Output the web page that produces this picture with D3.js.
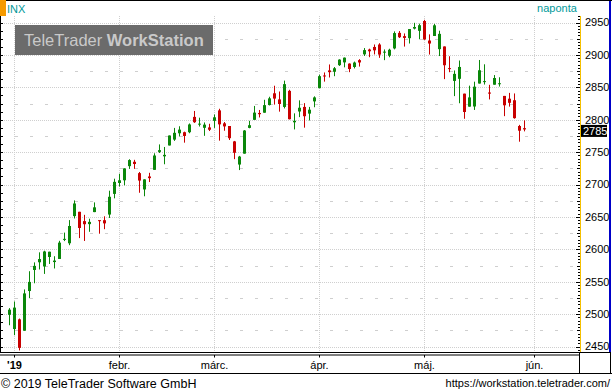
<!DOCTYPE html>
<head>
<meta charset="utf-8">
<script src="https://d3js.org/d3.v7.min.js"></script>
<style>
    body{margin:0;background:#fff;}
    svg{display:block;font-family:"Liberation Sans",Arial,sans-serif;}
</style>
</head>
<body>
<div id="container"></div>
<script>
    // INX napi gyertyák (2018-12-31 .. 2019-05-30)
    var dates = ['2018-12-31',
        '2019-01-02','2019-01-03','2019-01-04','2019-01-07','2019-01-08','2019-01-09','2019-01-10','2019-01-11','2019-01-14','2019-01-15','2019-01-16','2019-01-17','2019-01-18','2019-01-22','2019-01-23','2019-01-24','2019-01-25','2019-01-28','2019-01-29','2019-01-30','2019-01-31',
        '2019-02-01','2019-02-04','2019-02-05','2019-02-06','2019-02-07','2019-02-08','2019-02-11','2019-02-12','2019-02-13','2019-02-14','2019-02-15','2019-02-19','2019-02-20','2019-02-21','2019-02-22','2019-02-25','2019-02-26','2019-02-27','2019-02-28',
        '2019-03-01','2019-03-04','2019-03-05','2019-03-06','2019-03-07','2019-03-08','2019-03-11','2019-03-12','2019-03-13','2019-03-14','2019-03-15','2019-03-18','2019-03-19','2019-03-20','2019-03-21','2019-03-22','2019-03-25','2019-03-26','2019-03-27','2019-03-28','2019-03-29',
        '2019-04-01','2019-04-02','2019-04-03','2019-04-04','2019-04-05','2019-04-08','2019-04-09','2019-04-10','2019-04-11','2019-04-12','2019-04-15','2019-04-16','2019-04-17','2019-04-18','2019-04-22','2019-04-23','2019-04-24','2019-04-25','2019-04-26','2019-04-29','2019-04-30',
        '2019-05-01','2019-05-02','2019-05-03','2019-05-06','2019-05-07','2019-05-08','2019-05-09','2019-05-10','2019-05-13','2019-05-14','2019-05-15','2019-05-16','2019-05-17','2019-05-20','2019-05-21','2019-05-22','2019-05-23','2019-05-24','2019-05-28','2019-05-29','2019-05-30'];
    // a tengely a következő kereskedési napokig tart
    var futureDates = ['2019-05-31','2019-06-03'];

    var open = [2498.94,
        2476.96,2491.92,2474.33,2535.61,2568.11,2580.00,2573.51,2588.11,2580.31,2585.10,2614.75,2609.28,2651.27,2657.88,2643.48,2638.84,2657.44,2644.97,2644.89,2653.62,2685.49,
        2702.32,2706.49,2728.34,2735.05,2717.53,2692.36,2712.40,2722.61,2750.30,2743.50,2760.24,2769.28,2779.05,2780.67,2780.67,2804.35,2792.36,2787.50,2788.11,
        2798.22,2814.37,2794.41,2790.27,2766.53,2730.79,2747.61,2787.34,2799.78,2810.38,2810.79,2822.61,2840.76,2831.34,2819.72,2844.52,2796.01,2812.66,2819.72,2809.40,2828.27,
        2848.63,2868.24,2876.09,2873.99,2884.16,2888.46,2886.58,2881.37,2891.92,2900.86,2908.32,2912.26,2916.04,2904.81,2898.78,2909.99,2934.00,2928.99,2925.81,2940.58,2937.14,
        2952.33,2922.16,2929.21,2908.89,2913.03,2879.61,2859.84,2863.10,2840.19,2820.12,2820.38,2855.80,2858.60,2841.94,2854.02,2856.06,2836.70,2832.41,2830.03,2790.25,2786.94];
    var high = [2509.24,
        2519.49,2493.14,2538.07,2566.16,2579.82,2595.32,2597.82,2596.27,2589.32,2613.08,2625.76,2645.06,2675.47,2657.88,2653.19,2647.20,2672.38,2644.97,2650.93,2690.44,2708.95,
        2716.66,2724.99,2738.98,2738.08,2719.32,2708.07,2718.05,2748.19,2761.85,2757.90,2775.66,2787.33,2789.88,2781.58,2794.20,2813.49,2803.12,2795.76,2793.73,
        2808.02,2816.88,2796.44,2790.27,2767.25,2744.13,2784.00,2798.32,2821.24,2815.00,2830.73,2835.41,2852.42,2843.54,2860.31,2846.16,2809.79,2829.87,2825.56,2819.71,2836.03,
        2869.40,2872.90,2885.25,2881.28,2893.24,2895.95,2886.88,2889.71,2893.42,2910.54,2909.60,2916.06,2918.00,2908.40,2909.51,2936.31,2936.83,2933.10,2939.88,2949.52,2948.22,
        2954.13,2931.68,2947.85,2937.32,2913.03,2897.96,2875.97,2891.31,2840.19,2852.54,2858.68,2892.15,2885.48,2853.86,2868.88,2865.47,2836.70,2841.36,2840.51,2792.03,2799.00];
    var low = [2482.82,
        2467.47,2443.96,2474.33,2524.56,2547.56,2568.89,2562.02,2577.40,2570.41,2585.10,2612.68,2606.36,2647.58,2617.27,2612.86,2627.01,2657.33,2624.06,2631.05,2648.34,2678.65,
        2696.88,2698.75,2724.03,2724.15,2687.26,2681.83,2703.79,2722.61,2748.63,2731.23,2760.24,2767.29,2774.06,2764.55,2779.11,2794.99,2789.47,2775.13,2782.51,
        2787.38,2767.66,2782.97,2768.69,2739.09,2722.27,2747.61,2786.73,2799.78,2803.46,2810.79,2821.99,2823.27,2812.43,2817.38,2800.47,2785.02,2803.99,2787.72,2798.77,2819.23,
        2848.63,2858.75,2865.17,2867.14,2882.99,2880.78,2873.33,2879.13,2881.99,2898.37,2896.48,2900.71,2895.45,2891.90,2896.35,2908.53,2926.05,2912.84,2917.56,2939.35,2924.11,
        2923.36,2900.50,2929.21,2898.21,2862.60,2873.28,2836.40,2825.39,2801.43,2820.12,2815.08,2855.80,2854.23,2831.29,2854.02,2851.11,2805.49,2820.19,2801.58,2766.06,2782.00];
    var close = [2506.85,
        2510.03,2447.89,2531.94,2549.69,2574.41,2584.96,2596.64,2596.26,2582.61,2610.30,2616.10,2635.96,2670.71,2632.90,2638.70,2642.33,2664.76,2643.85,2640.00,2681.05,2704.10,
        2706.53,2724.87,2737.70,2731.61,2706.05,2707.88,2709.80,2744.73,2753.03,2745.73,2775.60,2779.76,2784.70,2774.88,2792.67,2796.11,2793.90,2792.38,2784.49,
        2803.69,2792.81,2789.65,2771.45,2748.93,2743.07,2783.30,2791.52,2810.92,2808.48,2822.48,2832.94,2832.57,2824.23,2854.88,2800.71,2798.36,2818.46,2805.37,2815.44,2834.40,
        2867.19,2867.24,2873.40,2879.39,2892.74,2895.77,2878.20,2888.21,2888.32,2907.41,2905.58,2907.06,2900.45,2905.03,2907.97,2933.68,2927.25,2926.17,2939.88,2943.03,2945.83,
        2923.73,2917.52,2945.64,2932.47,2884.05,2879.42,2870.72,2881.40,2811.87,2834.41,2850.96,2876.32,2859.53,2840.23,2864.36,2856.27,2822.24,2826.06,2802.39,2783.02,2785.00];

    var lastPrice = 2785;
    var yTicks = [2450, 2500, 2550, 2600, 2650, 2700, 2750, 2800, 2850, 2900, 2950];
    var monthLabels = ["'19", 'febr.', 'márc.', 'ápr.', 'máj.', 'jún.'];

    var W = 612, H = 392;
    var plotR = 580, plotTop = 16, axisY = 352.5;
    var upColor = '#0a870a', downColor = '#c80000', gridColor = '#cfcfcf';

    var svg = d3.select('#container').append('svg').attr('width', W).attr('height', H);

    var axisDates = dates.concat(futureDates);
    var x = d3.scalePoint().domain(axisDates).range([9.5, 9.5 + 5 * (axisDates.length - 1)]);
    var y = d3.scaleLinear().domain([2450, 2950]).range([346.5, 22.5]);
    var py = v => Math.round(y(v)) + 0.5;

    // hónapkezdő napok
    var monthStarts = axisDates.filter((d, i) => i > 0 && d.slice(0, 7) !== axisDates[i - 1].slice(0, 7));

    //rács
    var grid = svg.append('g');
    grid.selectAll('.hmain').data(yTicks).enter().append('line')
        .attr('x1', 0).attr('x2', plotR).attr('y1', py).attr('y2', py)
        .attr('stroke', gridColor).attr('stroke-dasharray', '1,1');
    grid.selectAll('.hmid').data(yTicks.slice(1).map(v => v - 25)).enter().append('line')
        .attr('x1', 0).attr('x2', plotR).attr('y1', py).attr('y2', py)
        .attr('stroke', gridColor).attr('stroke-dasharray', '3,12');
    grid.selectAll('.vline').data(monthStarts).enter().append('line')
        .attr('x1', d => x(d)).attr('x2', d => x(d)).attr('y1', plotTop).attr('y2', axisY)
        .attr('stroke', gridColor).attr('stroke-dasharray', '1,1');

    // vízjel
    svg.append('rect').attr('x', 15).attr('y', 25).attr('width', 198).attr('height', 30).attr('fill', '#6b6b6b');
    var wm = svg.append('text').attr('x', 24).attr('y', 45.5).attr('fill', '#c9c9c9').style('font-size', '16.5px');
    wm.append('tspan').text('TeleTrader ');
    wm.append('tspan').attr('font-weight', 'bold').text('WorkStation');

    //gyertyák
    var idx = d3.range(dates.length);
    var candles = svg.append('g').selectAll('g').data(idx).enter().append('g');
    candles.append('line')
        .attr('x1', i => x(dates[i])).attr('x2', i => x(dates[i]))
        .attr('y1', i => y(high[i])).attr('y2', i => y(low[i]))
        .attr('stroke', i => close[i] >= open[i] ? upColor : downColor);
    candles.append('rect')
        .attr('x', i => x(dates[i]) - 1.5).attr('width', 3)
        .attr('y', i => y(Math.max(open[i], close[i])))
        .attr('height', i => Math.max(1, Math.abs(y(open[i]) - y(close[i]))))
        .attr('fill', i => close[i] >= open[i] ? upColor : downColor);

    // bal oldali skála jelek
    svg.append('line').attr('x1', 0.5).attr('x2', 0.5).attr('y1', plotTop).attr('y2', axisY).attr('stroke', '#000');
    svg.append('g').selectAll('line').data(d3.range(2450, 2951, 12.5)).enter().append('line')
        .attr('x1', 0).attr('x2', 3).attr('y1', py).attr('y2', py).attr('stroke', '#000');

    // jobb oldali skála
    svg.append('rect').attr('x', plotR + 0.5).attr('y', 1).attr('width', W - plotR).attr('height', axisY - 1).attr('fill', '#fff');
    svg.append('line').attr('x1', plotR + 0.5).attr('x2', plotR + 0.5).attr('y1', plotTop).attr('y2', axisY).attr('stroke', '#f5c000');
    svg.append('g').selectAll('line').data(d3.range(2445, 2961, 5)).enter().append('line')
        .attr('x1', v => v % 50 === 0 ? 576 : (v % 25 === 0 ? 577 : 578)).attr('x2', plotR)
        .attr('y1', py).attr('y2', py).attr('stroke', '#000');
    svg.append('g').selectAll('text').data(yTicks).enter().append('text')
        .attr('x', 585).attr('y', y).attr('dy', '0.35em')
        .style('font-size', '11px').attr('fill', '#000').text(d => d);
    svg.append('rect').attr('x', 609).attr('y', 1).attr('width', 2).attr('height', axisY - 1).attr('fill', '#0000c8');

    // utolsó ár
    svg.append('rect').attr('x', 581).attr('y', y(lastPrice) - 4.5).attr('width', 26).attr('height', 12).attr('fill', '#000');
    svg.append('text').attr('x', 583).attr('y', y(lastPrice) + 1.5).attr('dy', '0.35em')
        .style('font-size', '11px').attr('fill', '#fff').text(lastPrice);

    // fejléc
    svg.append('rect').attr('x', 0).attr('y', 0).attr('width', W).attr('height', 1).attr('fill', '#000');
    svg.append('rect').attr('x', 0).attr('y', 0).attr('width', 6).attr('height', 16).attr('fill', '#f59a00');
    svg.append('text').attr('x', 7).attr('y', 12.5).style('font-size', '11px').attr('fill', '#00999a').text('INX');
    svg.append('text').attr('x', 557).attr('y', 12).attr('text-anchor', 'middle').style('font-size', '11px').attr('fill', '#00999a').text('naponta');

    // dátum tengely
    var ax = svg.append('g').attr('stroke', '#000');
    ax.append('line').attr('x1', 0).attr('x2', 611).attr('y1', axisY).attr('y2', axisY);
    ax.append('line').attr('x1', 0).attr('x2', plotR).attr('y1', axisY + 2.5).attr('y2', axisY + 2.5);
    ax.append('line').attr('x1', 0).attr('x2', W).attr('y1', 373.5).attr('y2', 373.5);
    ax.append('line').attr('x1', plotR - 0.5).attr('x2', plotR - 0.5).attr('y1', axisY).attr('y2', 373.5);
    ax.append('line').attr('x1', 610.5).attr('x2', 610.5).attr('y1', axisY).attr('y2', 373.5);
    ax.selectAll('.tick').data(monthStarts).enter().append('line')
        .attr('x1', d => x(d)).attr('x2', d => x(d)).attr('y1', axisY + 2.5).attr('y2', axisY + 5);
    svg.append('g').selectAll('text').data(monthStarts).enter().append('text')
        .attr('x', d => x(d)).attr('y', 368.5).attr('text-anchor', 'middle')
        .style('font-size', '11px').attr('fill', '#000')
        .attr('font-weight', (d, i) => i === 0 ? 'bold' : 'normal')
        .text((d, i) => monthLabels[i]);

    // lábléc
    svg.append('text').attr('x', 1).attr('y', 388).style('font-size', '12.5px').attr('fill', '#000').text('© 2019 TeleTrader Software GmbH');
    svg.append('text').attr('x', 610).attr('y', 387).attr('text-anchor', 'end').style('font-size', '11px').attr('fill', '#000').text('https://workstation.teletrader.com/');
</script>
</body>
